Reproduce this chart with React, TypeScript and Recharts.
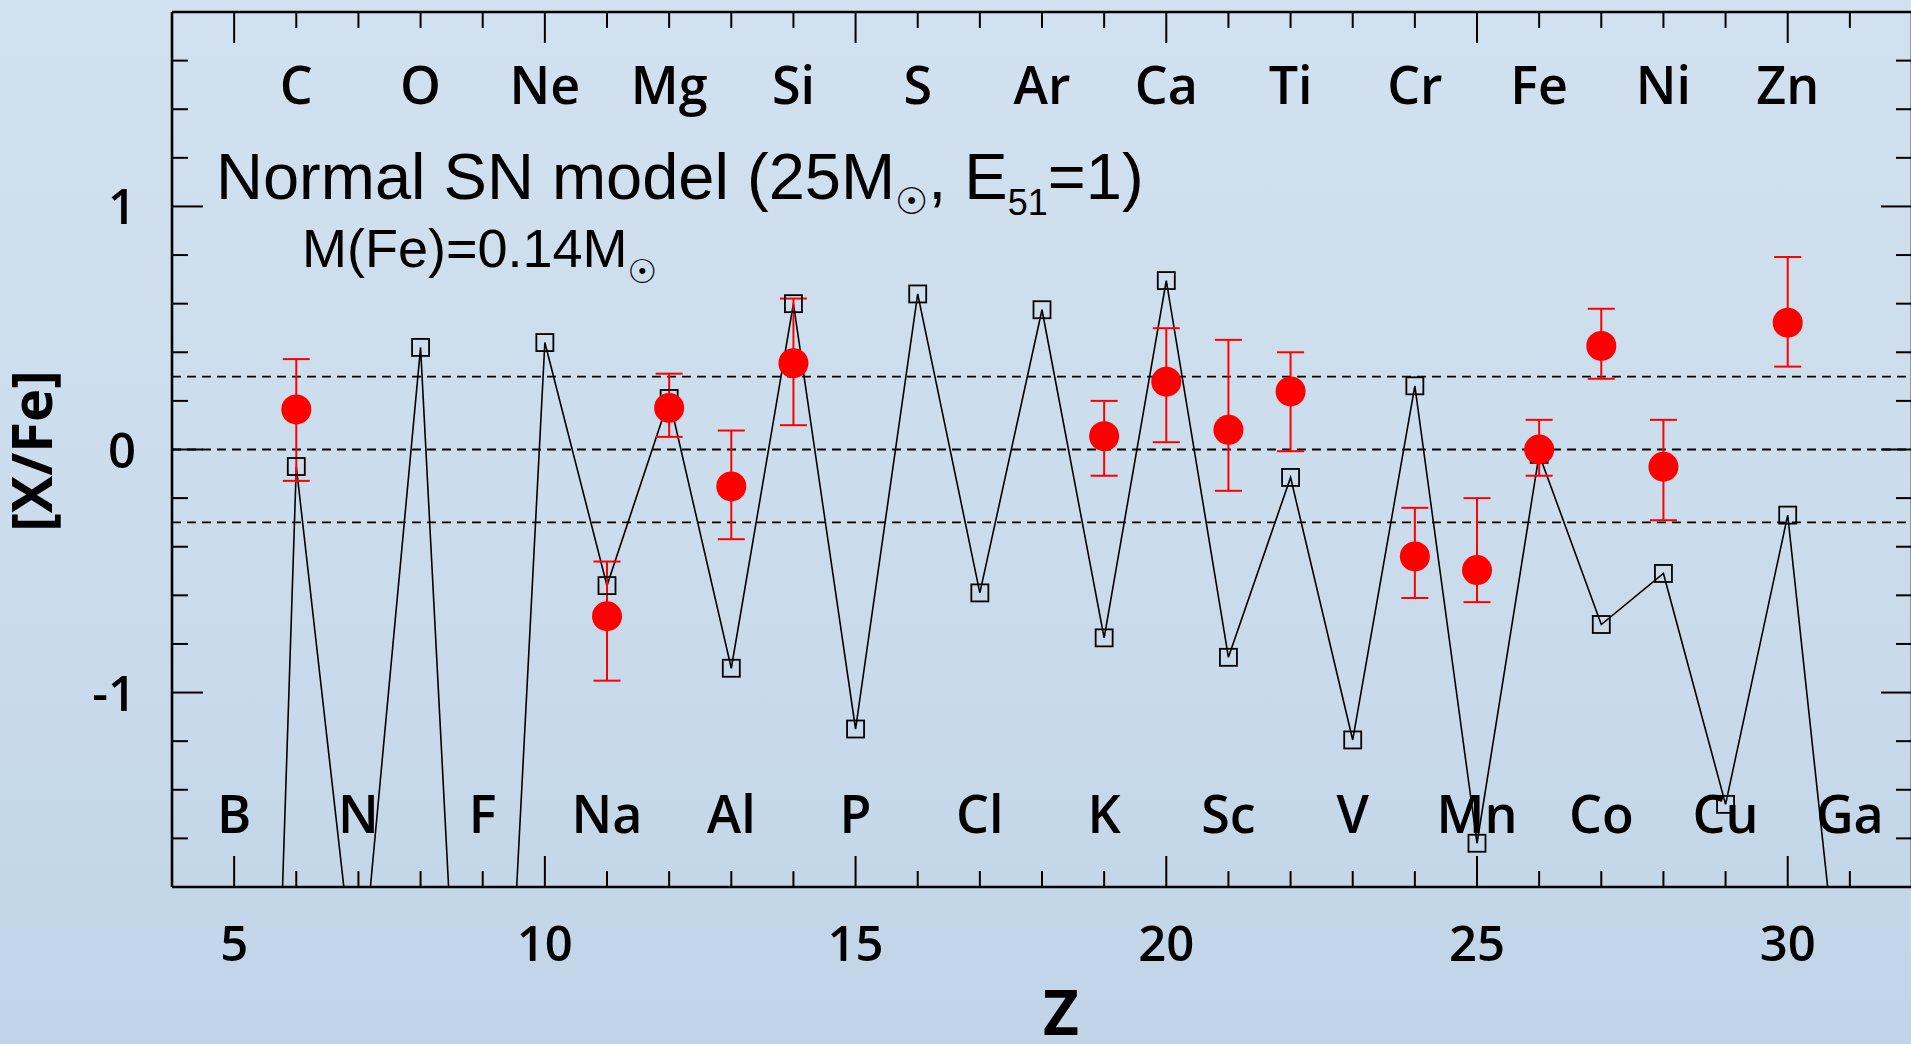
import React from "react";
import {
  ComposedChart,
  ErrorBar,
  Line,
  ReferenceLine,
  Scatter,
  XAxis,
  YAxis,
} from "recharts";

// atomic number, element symbols (Z = 5..31)
const Z_TICKS = [
  5, 6, 7, 8, 9, 10, 11, 12, 13, 14, 15, 16, 17, 18, 19, 20, 21, 22, 23, 24,
  25, 26, 27, 28, 29, 30, 31,
];
const ELEMENTS = [
  "B", "C", "N", "O", "F", "Ne", "Na", "Mg", "Al", "Si", "P", "S", "Cl", "Ar",
  "K", "Ca", "Sc", "Ti", "V", "Cr", "Mn", "Fe", "Co", "Ni", "Cu", "Zn", "Ga",
];

// normal SN model [X/Fe] (squares), one per Z above
const MODEL_XFE = [
  -7.9, -0.07, -2.33, 0.42, -4.5, 0.44, -0.56, 0.21, -0.9, 0.6, -1.15, 0.64,
  -0.59, 0.575, -0.775, 0.695, -0.855, -0.115, -1.195, 0.262, -1.62, -0.02,
  -0.72, -0.51, -1.46, -0.27, -2.65,
];

// observed [X/Fe] with error bar ends (red dots)
const OBS_Z = [6, 11, 12, 13, 14, 19, 20, 21, 22, 24, 25, 26, 27, 28, 30];
const OBS_XFE = [
  0.165, -0.686, 0.171, -0.152, 0.355, 0.055, 0.279, 0.081, 0.239, -0.44,
  -0.496, 0.0, 0.426, -0.071, 0.522,
];
const OBS_LOW = [
  -0.129, -0.951, 0.052, -0.369, 0.1, -0.108, 0.03, -0.17, -0.007, -0.611,
  -0.628, -0.108, 0.291, -0.291, 0.341,
];
const OBS_HIGH = [
  0.372, -0.461, 0.312, 0.078, 0.621, 0.2, 0.499, 0.451, 0.4, -0.24, -0.2,
  0.122, 0.579, 0.122, 0.792,
];

const Y_TICKS = [
  -1.6, -1.4, -1.2, -1, -0.8, -0.6, -0.4, -0.2, 0, 0.2, 0.4, 0.6, 0.8, 1, 1.2,
  1.4, 1.6,
];
const Y_LABELS: Record<string, string> = { "-1": "-1", "0": "0", "1": "1" };
const DASHED_LEVELS = [0.3, 0, -0.3];

const modelData = Z_TICKS.map((z, i) => ({ z, model: MODEL_XFE[i] }));
const obsData = OBS_Z.map((z, i) => ({
  z,
  obs: OBS_XFE[i],
  err: [OBS_XFE[i] - OBS_LOW[i], OBS_HIGH[i] - OBS_XFE[i]],
}));

const SANS = "'Open Sans', 'Noto Sans', sans-serif";
const ARIAL = "'Liberation Sans', Arial, sans-serif";
const SYM = "'DejaVu Sans', sans-serif";

const isMajorY = (v: number) => Math.abs(v - Math.round(v)) < 1e-6;

const BottomTick = (props: any) => {
  const { x, y, payload } = props;
  const z = payload.value as number;
  const major = z % 5 === 0;
  return (
    <g>
      <line x1={x} x2={x} y1={y} y2={y - (major ? 31 : 16)} stroke="#000" strokeWidth={2} />
      {major && (
        <text x={x} y={y + 74} textAnchor="middle" fontSize={49} fontWeight={600} fontFamily={SANS} fill="#000">
          {z}
        </text>
      )}
      {z % 2 === 1 && (
        <text x={x} y={y - 54} textAnchor="middle" fontSize={52} fontWeight={600} fontFamily={SANS} fill="#000">
          {ELEMENTS[Z_TICKS.indexOf(z)]}
        </text>
      )}
    </g>
  );
};

const TopTick = (props: any) => {
  const { x, y, payload } = props;
  const z = payload.value as number;
  const major = z % 5 === 0;
  return (
    <g>
      <line x1={x} x2={x} y1={y} y2={y + (major ? 31 : 16)} stroke="#000" strokeWidth={2} />
      {z % 2 === 0 && (
        <text x={x} y={y + 92} textAnchor="middle" fontSize={52} fontWeight={600} fontFamily={SANS} fill="#000">
          {ELEMENTS[Z_TICKS.indexOf(z)]}
        </text>
      )}
    </g>
  );
};

const LeftTick = (props: any) => {
  const { x, y, payload } = props;
  const v = payload.value as number;
  const major = isMajorY(v);
  return (
    <g>
      <line x1={x} x2={x + (major ? 31 : 16)} y1={y} y2={y} stroke="#000" strokeWidth={2} />
      {major && (
        <text x={x - 36} y={y + 18} textAnchor="end" fontSize={49} fontWeight={600} fontFamily={SANS} fill="#000">
          {Y_LABELS[String(Math.round(v))]}
        </text>
      )}
    </g>
  );
};

const RightTick = (props: any) => {
  const { x, y, payload } = props;
  const major = isMajorY(payload.value);
  return (
    <line x1={x} x2={x - (major ? 31 : 16)} y1={y} y2={y} stroke="#000" strokeWidth={2} />
  );
};

const renderSquare = (props: any) => {
  const { cx, cy, index, payload } = props;
  if (payload.model < -1.8 || cx == null || cy == null) return <g key={`sq-${index}`} />;
  return (
    <rect key={`sq-${index}`} x={cx - 8.5} y={cy - 8.5} width={17} height={17} fill="none" stroke="#000" strokeWidth={1.8} />
  );
};

const renderDot = (props: any) => (
  <circle cx={props.cx} cy={props.cy} r={15} fill="#ff0000" />
);

const axisLine = { stroke: "#000", strokeWidth: 2.6 };

export default function App() {
  return (
    <div
      style={{
        position: "absolute",
        left: 0,
        top: 0,
        width: 1911,
        height: 1044,
        overflow: "hidden",
        background: "linear-gradient(180deg, #d1e1ef 0%, #cbdcec 50%, #c1d5e8 100%)",
      }}
    >
      <ComposedChart
        width={1940}
        height={1044}
        data={modelData}
        margin={{ top: 11, right: 27, bottom: 156, left: 171 }}
      >
        <XAxis
          xAxisId="b"
          dataKey="z"
          type="number"
          domain={[4, 32]}
          allowDataOverflow
          ticks={Z_TICKS}
          interval={0}
          orientation="bottom"
          height={1}
          tickSize={0}
          tickMargin={0}
          tickLine={false}
          axisLine={axisLine}
          tick={BottomTick}
        />
        <XAxis
          xAxisId="t"
          dataKey="z"
          type="number"
          domain={[4, 32]}
          allowDataOverflow
          ticks={Z_TICKS}
          interval={0}
          orientation="top"
          height={1}
          tickSize={0}
          tickMargin={0}
          tickLine={false}
          axisLine={axisLine}
          tick={TopTick}
        />
        <YAxis
          yAxisId="l"
          type="number"
          domain={[-1.8, 1.8]}
          allowDataOverflow
          ticks={Y_TICKS}
          interval={0}
          orientation="left"
          width={1}
          tickSize={0}
          tickMargin={0}
          tickLine={false}
          axisLine={axisLine}
          tick={LeftTick}
        />
        <YAxis
          yAxisId="r"
          type="number"
          domain={[-1.8, 1.8]}
          allowDataOverflow
          ticks={Y_TICKS}
          interval={0}
          orientation="right"
          width={1}
          tickSize={0}
          tickMargin={0}
          tickLine={false}
          axisLine={axisLine}
          tick={RightTick}
        />
        {DASHED_LEVELS.map((lv) => (
          <ReferenceLine
            key={lv}
            xAxisId="b"
            yAxisId="l"
            y={lv}
            stroke="#000"
            strokeWidth={1.8}
            strokeDasharray="9 6"
          />
        ))}
        <Line
          xAxisId="b"
          yAxisId="l"
          dataKey="model"
          type="linear"
          stroke="#000"
          strokeWidth={1.6}
          dot={renderSquare}
          activeDot={false}
          isAnimationActive={false}
        />
        <Scatter
          xAxisId="b"
          yAxisId="l"
          data={obsData}
          dataKey="obs"
          shape={renderDot}
          isAnimationActive={false}
        >
          <ErrorBar dataKey="err" direction="y" width={13.5} stroke="#ff0000" strokeWidth={2} isAnimationActive={false} />
        </Scatter>
      </ComposedChart>
      <svg
        width={1911}
        height={1044}
        style={{ position: "absolute", left: 0, top: 0, pointerEvents: "none" }}
      >
        <text x={216} y={199} fontFamily={ARIAL} fontSize={65} fill="#000">
          Normal SN model (25M
          <tspan fontFamily={SYM} fontSize={37} dy={15}>☉</tspan>
          <tspan dy={-15}>, E</tspan>
          <tspan fontSize={36} dy={16}>51</tspan>
          <tspan dy={-16}>=1)</tspan>
        </text>
        <text x={302} y={267} fontFamily={ARIAL} fontSize={54} fill="#000">
          M(Fe)=0.14M
          <tspan fontFamily={SYM} fontSize={33} dy={16}>☉</tspan>
        </text>
        <text
          transform="translate(52, 451) rotate(-90)"
          textAnchor="middle"
          fontFamily={SANS}
          fontWeight={700}
          fontSize={56}
          fill="#000"
        >
          [X/Fe]
        </text>
        <text x={1061} y={1035} textAnchor="middle" fontFamily={SANS} fontWeight={700} fontSize={62} fill="#000">
          Z
        </text>
      </svg>
    </div>
  );
}
